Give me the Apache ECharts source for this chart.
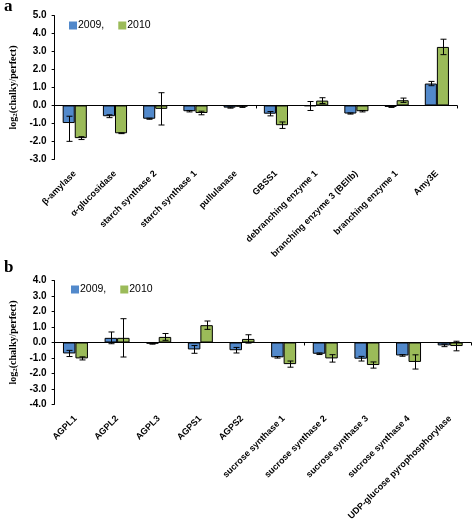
<!DOCTYPE html>
<html>
<head>
<meta charset="utf-8">
<script src="https://cdn.jsdelivr.net/npm/echarts@6/dist/echarts.min.js"></script>
<style>
html,body{margin:0;padding:0;background:#fff;}
#c{width:472px;height:523px;}
</style>
</head>
<body>
<div id="c"></div>
<script>
// ---------- Panel a ----------
const catsA = ['β-amylase','α-glucosidase','starch synthase 2','starch synthase 1','pullulanase','GBSS1','debranching enzyme 1','branching enzyme 3 (BEIIb)','branching enzyme 1','Amy3E'];
const a2009 = [-0.98, -0.60, -0.74, -0.32, -0.12, -0.46, -0.03, -0.45, -0.08, 1.22];
const a2009ErrUp = [0.38, 0.08, 0.03, 0.04, 0.03, 0.12, 0.25, 0.03, 0.03, 0.12];
const a2009ErrDown = [1.02, 0.08, 0.03, 0.04, 0.03, 0.12, 0.25, 0.03, 0.03, 0.12];
const a2010 = [-1.82, -1.55, -0.19, -0.42, -0.07, -1.10, 0.27, -0.32, 0.29, 3.26];
const a2010Err = [0.08, 0.02, 0.90, 0.10, 0.04, 0.18, 0.16, 0.04, 0.12, 0.43];
const ticksA = {min: -3, max: 5, interval: 1};

// ---------- Panel b ----------
const catsB = ['AGPL1','AGPL2','AGPL3','AGPS1','AGPS2','sucrose synthase 1','sucrose synthase 2','sucrose synthase 3','sucrose synthase 4','UDP-glucose pyrophosphorylase'];
const b2009 = [-0.71, 0.30, -0.08, -0.45, -0.50, -0.96, -0.73, -1.05, -0.84, -0.19];
const b2009Err = [0.20, 0.38, 0.03, 0.25, 0.18, 0.05, 0.05, 0.15, 0.05, 0.08];
const b2010 = [-1.03, 0.30, 0.36, 1.12, 0.23, -1.40, -1.03, -1.46, -1.26, -0.23];
const b2010Err = [0.10, 1.24, 0.22, 0.27, 0.27, 0.20, 0.24, 0.20, 0.46, 0.31];
const ticksB = {min: -4, max: 4, interval: 1};

const legendNames = ['2009,', '2010'];
const BLUE = '#5289cb', GREEN = '#9bbb59';
const BAR_FRAC = 0.3;

function errData(vals, up, down) {
  return vals.map((v, i) => [i, v - down[i], v + up[i]]);
}
function errRender(sign) {
  return function (params, api) {
    const c = api.value(0), lo = api.value(1), hi = api.value(2);
    const w = api.size([1, 0])[0] * BAR_FRAC;
    const x = Math.round(api.coord([c, 0])[0] + sign * w / 2) + 0.5;
    const yl = api.coord([c, lo])[1], yh = api.coord([c, hi])[1];
    const cap = 3;
    const st = {stroke: '#000', lineWidth: 1};
    return {type: 'group', children: [
      {type: 'line', shape: {x1: x, y1: yh, x2: x, y2: yl}, style: st},
      {type: 'line', shape: {x1: x - cap, y1: yh, x2: x + cap, y2: yh}, style: st},
      {type: 'line', shape: {x1: x - cap, y1: yl, x2: x + cap, y2: yl}, style: st}
    ]};
  };
}

const fontSans = 'Liberation Sans, Arial, sans-serif';
const fontSerif = 'Liberation Serif, Times New Roman, serif';

function xAxesFor(cats, gi, labelSize) {
  return [
    {type: 'category', gridIndex: gi, data: cats, position: 'bottom',
     axisLine: {show: false, onZero: false}, axisTick: {show: false},
     axisLabel: {interval: 0, rotate: 45, margin: 13, fontSize: labelSize, fontWeight: 'bold', color: '#000', fontFamily: fontSans}},
    {type: 'category', gridIndex: gi, data: cats, position: 'bottom',
     axisLine: {show: true, onZero: true, lineStyle: {color: '#000', width: 1}},
     axisTick: {show: true, length: 3, lineStyle: {color: '#000'}},
     axisLabel: {show: false}}
  ];
}
function yAxisFor(t, gi) {
  return {type: 'value', gridIndex: gi, min: t.min, max: t.max, interval: t.interval,
    name: '{n|log}{s|2}{n|(chalky/perfect)}', nameLocation: 'middle', nameGap: 31,
    nameTextStyle: {rich: {
      n: {fontFamily: fontSerif, fontSize: 10, fontWeight: 'bold', color: '#000'},
      s: {fontFamily: fontSerif, fontSize: 7, fontWeight: 'bold', color: '#000', verticalAlign: 'bottom', padding: [4, 0, 0, 0]}
    }},
    axisLine: {show: true, lineStyle: {color: '#000', width: 1}},
    axisTick: {show: true, length: 3, lineStyle: {color: '#000'}},
    splitLine: {show: false},
    axisLabel: {formatter: v => v.toFixed(1), fontSize: 10, fontWeight: 'bold', color: '#000', fontFamily: fontSans, margin: 8}
  };
}
function barSeries(name, vals, color, xi, yi) {
  return {type: 'bar', name: name, data: vals, xAxisIndex: xi, yAxisIndex: yi,
    barWidth: (BAR_FRAC * 100) + '%', barGap: '0%',
    itemStyle: {color: color, borderColor: '#000', borderWidth: 1}};
}
function errSeries(data, sign, xi, yi) {
  return {type: 'custom', data: data, xAxisIndex: xi, yAxisIndex: yi, z: 5, clip: false,
    renderItem: errRender(sign), encode: {x: 0, y: [1, 2]}, silent: true};
}

const legendText = {fontSize: 10.5, color: '#000', fontFamily: fontSans, padding: [0, 0, 0, -4]};

const chart = echarts.init(document.getElementById('c'), null, {renderer: 'canvas'});
chart.setOption({
  animation: false,
  backgroundColor: '#fff',
  graphic: [
    {type: 'text', left: 4, top: -2, style: {text: 'a', font: 'bold 17px ' + fontSerif, fill: '#000'}},
    {type: 'text', left: 4, top: 259, style: {text: 'b', font: 'bold 17px ' + fontSerif, fill: '#000'}}
  ],
  legend: [
    {data: legendNames, left: 64, top: 15, itemWidth: 8, itemHeight: 8, itemGap: 14, icon: 'rect',
     itemStyle: {borderWidth: 0}, textStyle: legendText},
    {data: legendNames, left: 66, top: 279, itemWidth: 8, itemHeight: 8, itemGap: 14, icon: 'rect',
     itemStyle: {borderWidth: 0}, textStyle: legendText}
  ],
  grid: [
    {left: 49, right: 15, top: 15.7, bottom: 363.7, containLabel: false},
    {left: 49, right: 1, top: 280.7, bottom: 115, containLabel: false}
  ],
  xAxis: xAxesFor(catsA, 0, 9).concat(xAxesFor(catsB, 1, 9)),
  yAxis: [yAxisFor(ticksA, 0), yAxisFor(ticksB, 1)],
  series: [
    barSeries('2009,', a2009, BLUE, 0, 0),
    barSeries('2010', a2010, GREEN, 0, 0),
    errSeries(errData(a2009, a2009ErrUp, a2009ErrDown), -1, 0, 0),
    errSeries(errData(a2010, a2010Err, a2010Err), 1, 0, 0),
    barSeries('2009,', b2009, BLUE, 2, 1),
    barSeries('2010', b2010, GREEN, 2, 1),
    errSeries(errData(b2009, b2009Err, b2009Err), -1, 2, 1),
    errSeries(errData(b2010, b2010Err, b2010Err), 1, 2, 1)
  ]
});
</script>
</body>
</html>
